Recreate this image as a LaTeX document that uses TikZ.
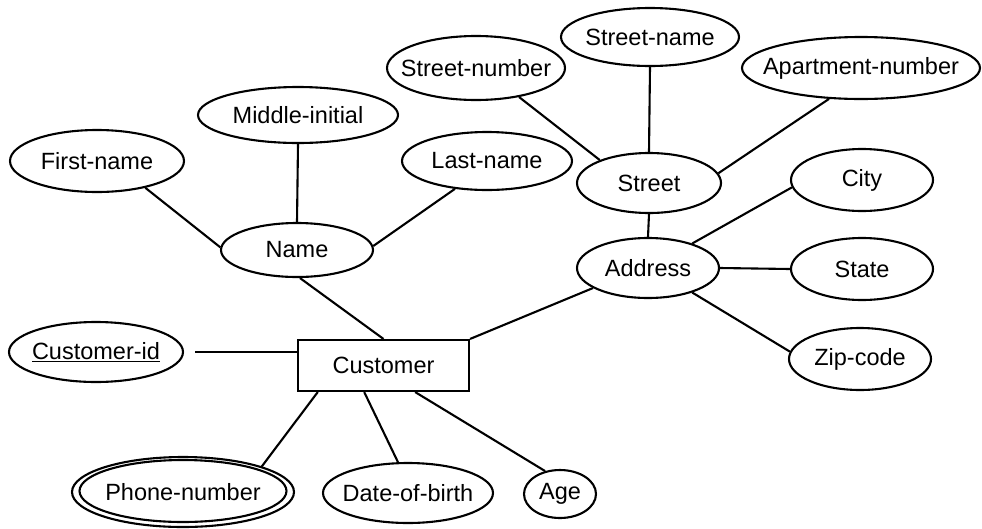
\documentclass[tikz,border=0pt]{standalone}
\usepackage{fontspec}
\setmainfont{Liberation Sans}
\usetikzlibrary{shapes.geometric}

\tikzset{
  attr/.style={ellipse, draw, line width=2.1pt, inner sep=0pt},
  entity/.style={rectangle, draw, line width=2.1pt, inner sep=0pt,
                 minimum width=171pt, minimum height=51pt},
  lbl/.style={inner sep=0pt, font=\fontsize{23.5}{26}\selectfont},
  link/.style={line width=2.1pt}
}

\begin{document}
\begin{tikzpicture}[x=1pt, y=-1pt]
\useasboundingbox (0,0) rectangle (982,528);

% entity
\node[entity] (customer) at (383.5,365.5) {};
\node[lbl] (customer-t) at (customer) {Customer};

% attributes: outline first, then label
\node[attr, minimum width=174pt, minimum height=62pt] (first) at (97,161) {};
\node[lbl] (first-t) at (first) {First-name};
\node[attr, minimum width=200pt, minimum height=56pt] (middle) at (298,115) {};
\node[lbl] (middle-t) at (middle) {Middle-initial};
\node[attr, minimum width=170pt, minimum height=58pt] (last) at (487,161) {};
\node[lbl] (last-t) at (last) {Last-name};
\node[attr, minimum width=152pt, minimum height=54pt] (name) at (297,250) {};
\node[lbl] (name-t) at (name) {Name};

\node[attr, minimum width=178pt, minimum height=64pt] (stnum) at (476,68) {};
\node[lbl] (stnum-t) at (stnum) {Street-number};
\node[attr, minimum width=178pt, minimum height=58pt] (stname) at (650,37) {};
\node[lbl] (stname-t) at (stname) {Street-name};
\node[attr, minimum width=238pt, minimum height=62pt] (apt) at (861,68) {};
\node[lbl] (apt-t) at (apt) {Apartment-number};
\node[attr, minimum width=144pt, minimum height=60pt] (street) at (649,183) {};
\node[lbl] (street-t) at (street) {Street};

\node[attr, minimum width=142pt, minimum height=62pt] (city) at (862,180) {};
\node[lbl] (city-t) at (city) {City};
\node[attr, minimum width=142pt, minimum height=60pt] (address) at (648,268) {};
\node[lbl] (address-t) at (address) {Address};
\node[attr, minimum width=142pt, minimum height=62pt] (state) at (862,269) {};
\node[lbl] (state-t) at (state) {State};
\node[attr, minimum width=142pt, minimum height=62pt] (zip) at (860,359) {};
\node[lbl] (zip-t) at (zip) {Zip-code};

\node[attr, minimum width=174pt, minimum height=60pt] (custid) at (96,352) {};
\node[lbl] (custid-t) at (custid) {\underline{Customer-id}};

% multivalued attribute: double outline
\node[attr, minimum width=222pt, minimum height=70pt] (phone) at (183,492) {};
\node[attr, minimum width=207pt, minimum height=62pt] (phone-in) at (183,491) {};
\node[lbl] (phone-t) at (phone) {Phone-number};

\node[attr, minimum width=170pt, minimum height=60pt] (dob) at (408,493) {};
\node[lbl] (dob-t) at (dob) {Date-of-birth};
\node[attr, minimum width=72pt, minimum height=48pt] (age) at (560,494) {};
\node[lbl] (age-t) at (age) {Age};

% connectors
\draw[link] (first.-29.5) -- (name.178);
\draw[link] (middle.south) -- (name.north);
\draw[link] (last.-139.4) -- (name.3.8);
\draw[link] (name.-84) -- (customer.north);

\draw[link] (stnum.-34.6) -- (street.155.7);
\draw[link] (stname.south) -- (street.north);
\draw[link] (apt.-136.7) -- (street.8.2);
\draw[link] (street.south) -- (address.north);

\draw[link] (address.29) -- (city.-174.2);
\draw[link] (address.east) -- (state.west);
\draw[link] (address.-29.6) -- (zip.174.3);
\draw[link] (address.-160) -- (customer.north east);

\draw[link, shorten <=11pt] (custid.east) -- (custid.east -| customer.west);
\draw[link] (customer.-158.1) -- (phone.18.9);
\draw[link] (customer.-126) -- (dob.108.4);
\draw[link] (customer.-40.8) -- (age.123.1);
\end{tikzpicture}
\end{document}
